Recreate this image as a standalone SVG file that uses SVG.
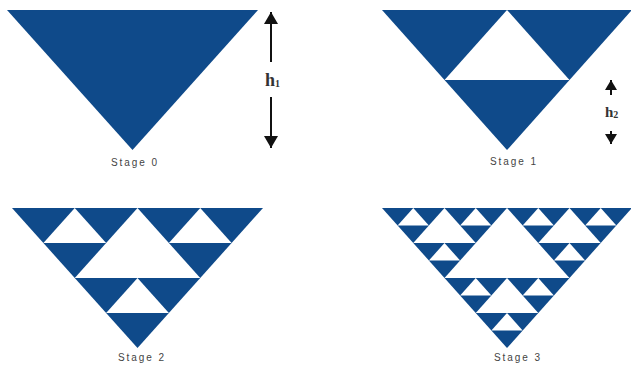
<svg xmlns="http://www.w3.org/2000/svg" xmlns:xlink="http://www.w3.org/1999/xlink" width="631" height="369" viewBox="0 0 631 369">
<style>
.blue{fill:#0f4a8a;}
.white{fill:#ffffff;}
.lbl{font-family:"Liberation Sans",Arial,sans-serif;font-size:10px;fill:#444;text-anchor:middle;}
.h{font-family:"Liberation Serif","Times New Roman",serif;font-weight:bold;fill:#333;}
.arr{stroke:#111;stroke-width:2;fill:none;}
</style>
<defs>
<marker id="ah" viewBox="0 0 12 14" refX="12" refY="7" markerWidth="12" markerHeight="14" markerUnits="userSpaceOnUse" orient="auto">
<path d="M0,0 L12,7 L0,14 z" fill="#111"/>
</marker>
<marker id="ah2" viewBox="0 0 10 12" refX="10" refY="6" markerWidth="10" markerHeight="12" markerUnits="userSpaceOnUse" orient="auto">
<path d="M0,0 L10,6 L0,12 z" fill="#111"/>
</marker>
<polygon id="tri" class="blue" points="0,0 8,0 4,8"/>
<polygon id="L1" class="white" points="4,0 2,4 6,4"/>
<g id="L2" class="white">
<polygon points="2,0 1,2 3,2"/>
<polygon points="6,0 5,2 7,2"/>
<polygon points="4,4 3,6 5,6"/>
</g>
<g id="L3" class="white">
<polygon points="1,0 0.5,1 1.5,1"/>
<polygon points="3,0 2.5,1 3.5,1"/>
<polygon points="2,2 1.5,3 2.5,3"/>
<polygon points="5,0 4.5,1 5.5,1"/>
<polygon points="7,0 6.5,1 7.5,1"/>
<polygon points="6,2 5.5,3 6.5,3"/>
<polygon points="3,4 2.5,5 3.5,5"/>
<polygon points="5,4 4.5,5 5.5,5"/>
<polygon points="4,6 3.5,7 4.5,7"/>
</g>
</defs>
<rect width="631" height="369" fill="#ffffff"/>
<g id="stage0">
<g transform="translate(7,10) scale(31.375,17.5)"><use href="#tri"/></g>
<text class="lbl" x="134" y="166" textLength="46">Stage 0</text>
</g>
<g id="stage1">
<g transform="translate(382,10) scale(31.25,17.5)"><use href="#tri"/><use href="#L1"/></g>
<text class="lbl" x="513" y="165" textLength="46">Stage 1</text>
</g>
<g id="stage2">
<g transform="translate(12,208) scale(31.375,17.5)"><use href="#tri"/><use href="#L1"/><use href="#L2"/></g>
<text class="lbl" x="141" y="361" textLength="46">Stage 2</text>
</g>
<g id="stage3">
<g transform="translate(382,208) scale(31.25,17.5)"><use href="#tri"/><use href="#L1"/><use href="#L2"/><use href="#L3"/></g>
<text class="lbl" x="517" y="361" textLength="46">Stage 3</text>
</g>
<g id="h1label">
<text class="h" x="265" y="86" font-size="18">h<tspan font-size="10" dy="1">1</tspan></text>
</g>
<g id="h2label">
<text class="h" x="605" y="117" font-size="15">h<tspan font-size="10" dy="1">2</tspan></text>
</g>
<g id="connectors">
<line class="arr" x1="271" y1="62" x2="271" y2="12" marker-end="url(#ah)"/>
<line class="arr" x1="271" y1="97" x2="271" y2="148" marker-end="url(#ah)"/>
<line class="arr" x1="611" y1="95" x2="611" y2="80" marker-end="url(#ah2)"/>
<line class="arr" x1="611" y1="131" x2="611" y2="144" marker-end="url(#ah2)"/>
</g>
</svg>
